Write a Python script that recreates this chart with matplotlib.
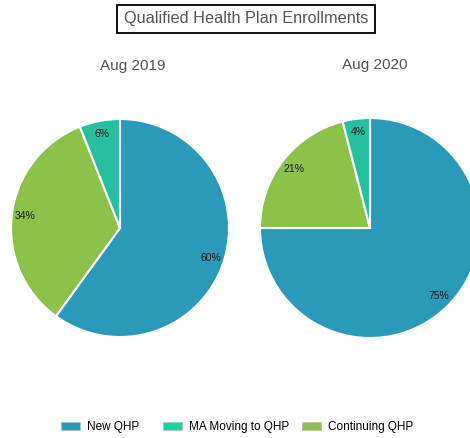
import matplotlib
matplotlib.use("Agg")
import matplotlib.pyplot as plt
from matplotlib.patches import Patch

plt.rcParams['font.family'] = ['Liberation Sans', 'DejaVu Sans']

# data, in legend order
categories = ["New QHP", "MA Moving to QHP", "Continuing QHP"]
aug_2019 = [60, 6, 34]
aug_2020 = [75, 4, 21]
panel_titles = ["Aug 2019", "Aug 2020"]

pie_colors = ["#2A9AB8", "#26BFA0", "#8CC14A"]
legend_colors = ["#2A9AB8", "#1ECFA0", "#8CC14A"]

W, H = 470, 438
fig = plt.figure(figsize=(W / 100, H / 100), dpi=100)
ax = fig.add_axes([0, 0, 1, 1])

# draw clockwise from 12 o'clock: New, Continuing, MA
order = [0, 2, 1]
centers = [(120, H - 228), (370, H - 228)]
radii = [109, 110]

for vals, center, r in zip([aug_2019, aug_2020], centers, radii):
    ax.pie([vals[i] for i in order], colors=[pie_colors[i] for i in order],
           startangle=90, counterclock=False, center=center, radius=r,
           frame=True, autopct="%d%%", pctdistance=0.88,
           wedgeprops=dict(edgecolor="white", linewidth=1.5),
           textprops=dict(fontsize=7.5, color="#1a1a1a"))

ax.set_xlim(0, W)
ax.set_ylim(0, H)
ax.set_aspect("auto")
ax.axis("off")

fig.text(246 / W, 1 - 18.5 / H, "Qualified Health Plan Enrollments", ha="center", va="center",
         fontsize=11.7, color="#555555",
         bbox=dict(boxstyle="square,pad=0.4", facecolor="white", edgecolor="black", linewidth=1.3))

fig.text(133 / W, 1 - 66 / H, panel_titles[0], ha="center", va="center", fontsize=11, color="#555555")
fig.text(375 / W, 1 - 65 / H, panel_titles[1], ha="center", va="center", fontsize=11, color="#555555")

# one legend per entry so the column positions match the original
legend_x = [61, 163, 302]
for name, c, x in zip(categories, legend_colors, legend_x):
    leg = fig.legend([Patch(facecolor=c, edgecolor="#bbbbbb", linewidth=0.5)], [name],
                     loc="center left", bbox_to_anchor=(x / W, 1 - 427 / H),
                     frameon=False, fontsize=8.5, handlelength=1.6, handleheight=0.75,
                     handletextpad=0.6, borderpad=0, borderaxespad=0)

fig.savefig("out.png", dpi=100)
